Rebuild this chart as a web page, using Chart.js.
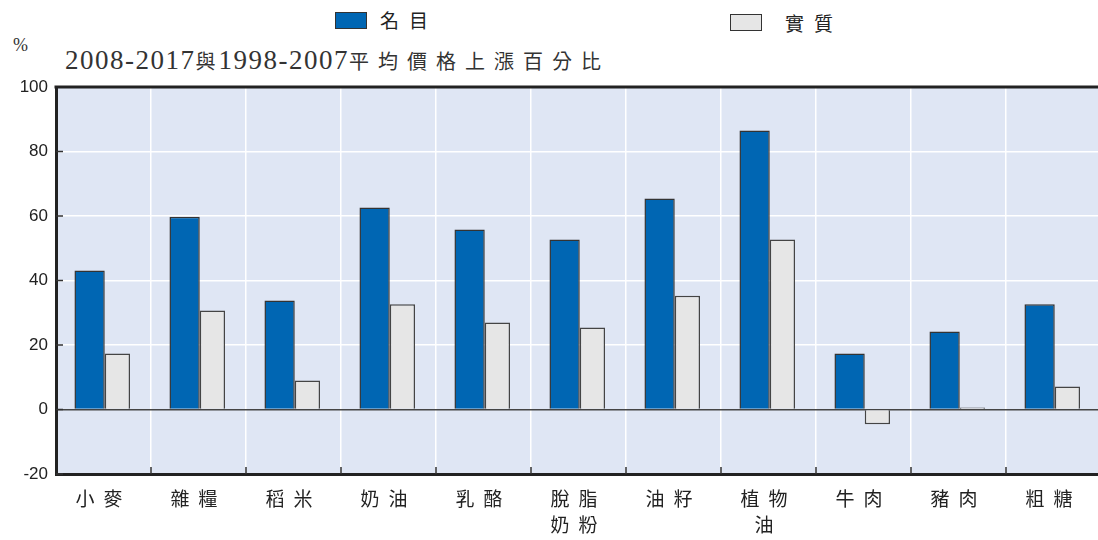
<!DOCTYPE html>
<html>
<head>
<meta charset="utf-8">
<script src="https://cdn.jsdelivr.net/npm/chart.js@4.4.1/dist/chart.umd.min.js"></script>
<style>
  html, body { margin: 0; padding: 0; background: #fff; overflow: hidden; }
  #wrap { position: relative; width: 1098px; height: 540px; overflow: hidden; }
  #box { position: absolute; left: 0; top: 0; width: 1110px; height: 540px; }
  .lg { position: absolute; font-family: "Noto Sans CJK TC", sans-serif; font-size: 19px; color: #222; letter-spacing: 10px; line-height: 1; }
  .sw { position: absolute; height: 15px; width: 30px; border: 1.5px solid #333; }
  #pct { position: absolute; left: 13px; top: 35px; font-family: "Liberation Serif", serif; font-size: 18px; color: #333; }
  #title { position: absolute; left: 65px; top: 47px; font-family: "Liberation Serif", "Noto Sans CJK TC", serif; font-size: 27px; letter-spacing: 1.5px; color: #333; line-height: 1; white-space: nowrap; }
  #title .c { font-family: "Noto Sans CJK TC", sans-serif; font-size: 20px; letter-spacing: 9px; }
  #title .j { font-family: "Noto Sans CJK TC", sans-serif; font-size: 20px; letter-spacing: 3px; }
</style>
</head>
<body>
<div id="wrap">
  <div class="sw" style="left:335px; top:12px; background:#0066b3;"></div>
  <div class="lg" style="left:380px; top:10px;">名目</div>
  <div class="sw" style="left:730px; top:14px; background:#e6e6e6;"></div>
  <div class="lg" style="left:785px; top:13px;">實質</div>
  <div id="pct">%</div>
  <div id="title">2008-2017<span class="j">與</span>1998-2007<span class="c">平均價格上漲百分比</span></div>
  <div id="box"><canvas id="chart" width="1110" height="540"></canvas></div>
</div>
<script>
const categories = ['小麥', '雜糧', '稻米', '奶油', '乳酪', ['脫脂', '奶粉'], '油籽', ['植物', '油'], '牛肉', '豬肉', '粗糖'];
const nominal = [43.1, 59.8, 33.8, 62.6, 55.8, 52.7, 65.4, 86.5, 17.4, 24.2, 32.6];
const real = [17.4, 30.7, 9.0, 32.6, 27.0, 25.4, 35.3, 52.7, -4.6, 0.6, 7.1];
const seriesNames = ['名目', '實質'];
const yTicks = [-20, 0, 20, 40, 60, 80, 100];

const plotBg = {
  id: 'plotBg',
  beforeDraw(chart) {
    const { ctx, chartArea: a } = chart;
    ctx.save();
    ctx.fillStyle = '#dfe6f4';
    ctx.fillRect(a.left, a.top, a.right - a.left, a.bottom - a.top);
    ctx.restore();
  }
};

// short ticks pointing into the plot, plus the top border line
const innerTicks = {
  id: 'innerTicks',
  afterDatasetsDraw(chart) {
    const { ctx, chartArea: a, scales } = chart;
    ctx.save();
    ctx.strokeStyle = '#333';
    ctx.lineWidth = 1.5;
    ctx.beginPath();
    scales.y.ticks.forEach(t => {
      const y = scales.y.getPixelForValue(t.value);
      ctx.moveTo(a.left, y);
      ctx.lineTo(a.left + 7, y);
    });
    for (let i = 1; i < categories.length; i++) {
      const x = (scales.x.getPixelForTick(i - 1) + scales.x.getPixelForTick(i)) / 2;
      ctx.moveTo(x, a.bottom);
      ctx.lineTo(x, a.bottom - 7);
    }
    ctx.stroke();
    ctx.strokeStyle = '#222';
    ctx.lineWidth = 3;
    ctx.beginPath();
    ctx.moveTo(a.left - 1.5, a.top);
    ctx.lineTo(a.right, a.top);
    ctx.stroke();
    ctx.restore();
    // x labels are drawn after this (ticks z: 1), spaced out like the source
    ctx.letterSpacing = '9px';
  },
  afterDraw(chart) {
    chart.ctx.letterSpacing = '0px';
  }
};

new Chart(document.getElementById('chart'), {
  type: 'bar',
  data: {
    labels: categories,
    datasets: [
      { label: seriesNames[0], data: nominal, backgroundColor: '#0066b3', borderColor: '#333', borderWidth: 1.5, barPercentage: 1.09, categoryPercentage: 0.585 },
      { label: seriesNames[1], data: real, backgroundColor: '#e6e6e6', borderColor: '#444', borderWidth: 1.5, barPercentage: 0.91, categoryPercentage: 0.585 }
    ]
  },
  options: {
    responsive: false,
    animation: false,
    layout: { padding: { top: 87, right: 9, left: 0, bottom: 0 } },
    plugins: { legend: { display: false }, tooltip: { enabled: false } },
    scales: {
      x: {
        afterFit(s) { s.height = 66; },
        grid: { color: '#ffffff', lineWidth: 1.5, drawTicks: false },
        border: { color: '#222', width: 3 },
        ticks: {
          z: 1, autoSkip: false, maxRotation: 0, padding: 12, color: '#222',
          font: { family: '"Noto Sans CJK TC", sans-serif', size: 19, lineHeight: 1.35 }
        }
      },
      y: {
        min: -20, max: 100,
        afterFit(s) { s.width = 56; },
        afterBuildTicks(s) { s.ticks = yTicks.map(v => ({ value: v })); },
        grid: { color: c => c.tick && c.tick.value === 0 ? '#444' : '#ffffff', lineWidth: 1.5, drawTicks: false },
        border: { color: '#222', width: 3 },
        ticks: {
          padding: 8, color: '#222',
          font: { family: '"Liberation Sans", Arial, sans-serif', size: 17 }
        }
      }
    }
  },
  plugins: [plotBg, innerTicks]
});
</script>
</body>
</html>
